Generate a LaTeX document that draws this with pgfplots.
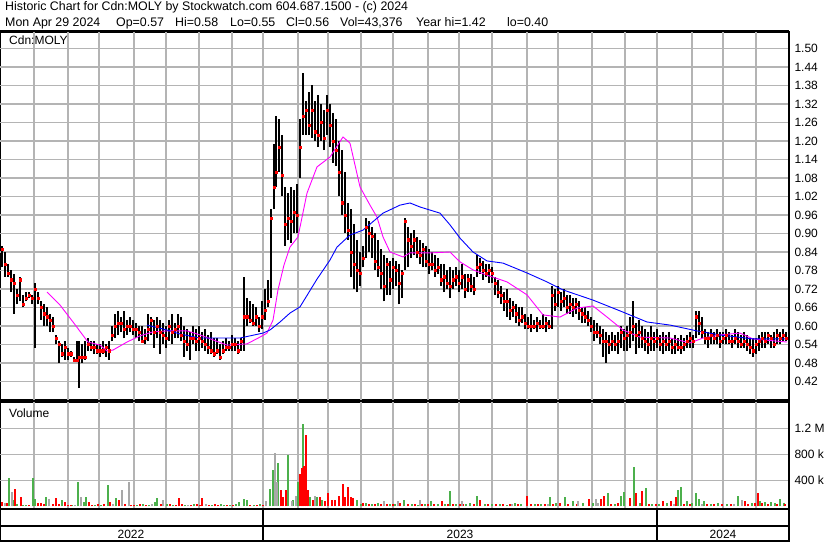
\documentclass[border=0pt]{standalone}
\usepackage{pgfplots}
\pgfplotsset{compat=1.18}
\usepackage{pgfplotstable}
\usepackage{fontspec}
\setmainfont{Liberation Sans}

\definecolor{gridc}{RGB}{180,180,180}
\definecolor{volg}{RGB}{76,176,76}
\definecolor{volr}{RGB}{255,0,0}
\definecolor{volgr}{RGB}{168,168,168}
\definecolor{maf}{RGB}{255,0,255}
\definecolor{mas}{RGB}{0,0,255}

% daily bars: x position, high, low, close
\pgfplotstableread{
x h l c
2 0.86 0.79 0.85
5 0.84 0.76 0.80
8 0.80 0.76 0.77
11 0.78 0.71 0.75
14 0.77 0.64 0.74
17 0.72 0.67 0.70
20 0.76 0.68 0.75
23 0.70 0.66 0.67
26 0.71 0.68 0.69
29 0.71 0.69 0.70
32 0.70 0.67 0.69
35 0.74 0.53 0.72
38 0.71 0.67 0.69
41 0.68 0.62 0.66
44 0.67 0.60 0.64
47 0.66 0.60 0.63
50 0.64 0.58 0.62
53 0.63 0.58 0.60
56 0.57 0.54 0.56
59 0.55 0.48 0.54
62 0.54 0.50 0.51
65 0.55 0.49 0.53
68 0.53 0.49 0.51
71 0.52 0.50 0.51
74 0.50 0.49 0.49
77 0.55 0.49 0.49
79 0.55 0.40 0.50
82 0.54 0.48 0.50
85 0.55 0.49 0.50
88 0.56 0.52 0.54
91 0.55 0.52 0.53
94 0.55 0.51 0.53
97 0.54 0.51 0.52
100 0.54 0.50 0.52
103 0.55 0.51 0.52
106 0.54 0.50 0.53
109 0.55 0.49 0.52
112 0.60 0.55 0.57
115 0.64 0.56 0.60
118 0.65 0.57 0.61
121 0.63 0.58 0.61
124 0.65 0.56 0.59
127 0.62 0.57 0.60
130 0.63 0.58 0.60
133 0.62 0.57 0.59
136 0.61 0.56 0.59
139 0.60 0.55 0.58
142 0.60 0.55 0.55
145 0.59 0.54 0.56
148 0.64 0.55 0.59
151 0.63 0.57 0.62
154 0.62 0.53 0.58
157 0.63 0.56 0.60
160 0.62 0.51 0.58
163 0.61 0.54 0.57
166 0.60 0.53 0.56
169 0.62 0.55 0.60
172 0.64 0.54 0.58
175 0.61 0.56 0.59
178 0.64 0.56 0.60
181 0.63 0.55 0.57
184 0.60 0.50 0.55
187 0.59 0.52 0.54
190 0.58 0.49 0.56
193 0.60 0.54 0.56
196 0.59 0.52 0.55
199 0.60 0.52 0.56
202 0.58 0.53 0.55
205 0.59 0.52 0.54
208 0.57 0.51 0.53
211 0.58 0.51 0.52
214 0.56 0.50 0.51
217 0.56 0.51 0.52
220 0.54 0.49 0.50
223 0.55 0.51 0.52
226 0.56 0.52 0.53
229 0.55 0.52 0.53
232 0.57 0.52 0.54
235 0.56 0.52 0.54
238 0.55 0.51 0.52
241 0.56 0.52 0.55
244 0.76 0.52 0.63
247 0.69 0.60 0.63
250 0.68 0.61 0.62
253 0.67 0.60 0.61
256 0.66 0.60 0.63
259 0.63 0.58 0.60
262 0.68 0.59 0.63
265 0.72 0.62 0.65
268 0.75 0.66 0.68
271 0.98 0.69 0.95
274 1.19 0.98 1.05
276 1.28 1.05 1.10
279 1.27 1.10 1.18
282 1.22 1.02 1.09
285 1.05 0.86 0.93
288 1.03 0.88 0.95
291 1.05 0.87 0.94
294 1.04 0.90 0.97
297 1.06 0.90 0.96
300 1.27 1.08 1.18
303 1.42 1.22 1.28
306 1.33 1.22 1.30
309 1.36 1.22 1.25
312 1.38 1.21 1.30
315 1.33 1.20 1.23
318 1.35 1.18 1.22
321 1.32 1.20 1.26
324 1.30 1.17 1.21
327 1.35 1.22 1.30
330 1.32 1.18 1.25
333 1.29 1.13 1.20
336 1.27 1.12 1.17
339 1.20 1.02 1.10
342 1.17 0.96 1.00
345 1.10 0.90 0.96
348 1.00 0.88 0.91
351 0.98 0.76 0.84
354 0.93 0.72 0.80
357 0.88 0.71 0.78
360 0.84 0.73 0.77
363 0.86 0.79 0.82
366 0.95 0.82 0.92
369 0.94 0.84 0.90
372 0.92 0.82 0.89
375 0.90 0.78 0.81
378 0.88 0.76 0.79
381 0.85 0.72 0.77
384 0.83 0.68 0.73
387 0.82 0.70 0.80
390 0.81 0.70 0.75
393 0.82 0.72 0.79
396 0.81 0.73 0.78
399 0.80 0.67 0.74
402 0.78 0.69 0.77
405 0.95 0.78 0.94
408 0.92 0.79 0.88
411 0.90 0.82 0.86
414 0.91 0.83 0.88
417 0.89 0.82 0.84
420 0.88 0.80 0.83
423 0.87 0.79 0.85
426 0.86 0.79 0.81
429 0.85 0.77 0.80
432 0.84 0.78 0.80
435 0.83 0.76 0.78
438 0.82 0.77 0.79
441 0.80 0.73 0.75
444 0.80 0.71 0.76
447 0.78 0.72 0.74
450 0.79 0.69 0.73
453 0.78 0.72 0.75
456 0.79 0.73 0.76
459 0.78 0.71 0.74
462 0.80 0.72 0.76
465 0.77 0.69 0.72
468 0.77 0.71 0.75
471 0.77 0.71 0.73
474 0.76 0.70 0.72
477 0.83 0.76 0.79
480 0.82 0.77 0.80
483 0.81 0.75 0.78
486 0.80 0.76 0.77
489 0.80 0.74 0.78
492 0.79 0.74 0.77
495 0.76 0.70 0.74
498 0.75 0.69 0.71
501 0.73 0.67 0.70
504 0.71 0.65 0.68
507 0.72 0.63 0.68
510 0.69 0.62 0.65
513 0.68 0.63 0.66
516 0.67 0.61 0.64
519 0.66 0.60 0.62
522 0.66 0.61 0.63
525 0.64 0.59 0.61
528 0.63 0.59 0.60
531 0.64 0.58 0.60
534 0.62 0.59 0.60
537 0.63 0.58 0.61
540 0.62 0.59 0.60
543 0.64 0.59 0.60
546 0.63 0.58 0.61
549 0.62 0.59 0.60
552 0.73 0.59 0.70
555 0.72 0.65 0.67
558 0.73 0.66 0.71
561 0.71 0.65 0.68
564 0.72 0.66 0.69
567 0.70 0.64 0.66
570 0.70 0.64 0.67
573 0.69 0.63 0.66
576 0.69 0.64 0.67
579 0.68 0.62 0.65
582 0.66 0.61 0.64
585 0.66 0.61 0.63
588 0.65 0.60 0.62
591 0.63 0.58 0.60
594 0.62 0.55 0.58
597 0.61 0.56 0.58
600 0.60 0.54 0.57
603 0.59 0.50 0.55
606 0.58 0.48 0.55
609 0.57 0.51 0.54
612 0.58 0.52 0.55
615 0.57 0.52 0.54
618 0.58 0.51 0.55
621 0.60 0.53 0.58
624 0.59 0.52 0.56
627 0.60 0.52 0.57
630 0.63 0.53 0.58
633 0.68 0.55 0.60
636 0.61 0.51 0.57
639 0.62 0.53 0.58
642 0.60 0.53 0.56
645 0.59 0.52 0.55
648 0.58 0.51 0.54
651 0.60 0.52 0.56
654 0.58 0.52 0.55
657 0.59 0.53 0.56
660 0.57 0.52 0.54
663 0.58 0.51 0.55
666 0.57 0.52 0.54
669 0.58 0.52 0.55
672 0.56 0.51 0.53
675 0.57 0.51 0.54
678 0.56 0.52 0.53
681 0.57 0.51 0.53
684 0.56 0.52 0.54
687 0.57 0.53 0.55
690 0.58 0.53 0.56
693 0.57 0.53 0.55
696 0.65 0.56 0.63
699 0.65 0.57 0.61
702 0.63 0.56 0.58
705 0.59 0.54 0.56
708 0.58 0.53 0.56
711 0.59 0.54 0.57
714 0.58 0.54 0.56
717 0.59 0.54 0.57
720 0.58 0.53 0.55
723 0.58 0.54 0.56
726 0.59 0.54 0.57
729 0.58 0.54 0.55
732 0.57 0.53 0.55
735 0.59 0.54 0.56
738 0.58 0.53 0.55
741 0.57 0.53 0.54
744 0.58 0.53 0.55
747 0.57 0.52 0.54
750 0.56 0.51 0.53
753 0.56 0.50 0.52
756 0.56 0.51 0.54
759 0.57 0.52 0.55
762 0.58 0.53 0.56
765 0.58 0.53 0.55
768 0.58 0.54 0.57
771 0.57 0.53 0.56
774 0.58 0.53 0.54
777 0.59 0.54 0.57
780 0.58 0.54 0.56
783 0.59 0.55 0.57
786 0.58 0.55 0.56
}\pricedata

\pgfplotsset{
  panel/.style={
    scale only axis, anchor=south west,
    xmin=0, xmax=789,
    axis line style={black, line width=1.6pt},
    xtick=\empty,
    major tick length=0pt,
    yticklabel pos=right,
    yticklabel style={font=\fontsize{12}{14}\selectfont, anchor=west, xshift=2pt},
  },
}
\tikzset{gridline/.style={draw=gridc, line width=1.1pt}}

\begin{document}
\begin{tikzpicture}
\path[use as bounding box] (0pt,0pt) rectangle (830pt,543pt);

% header
\begin{scope}[every node/.style={font=\fontsize{12.4}{14}\selectfont, anchor=base west, inner sep=0pt}]
\node at (5pt,532pt) {Historic Chart for Cdn:MOLY by Stockwatch.com 604.687.1500 - (c) 2024};
\node at (5pt,516pt) {Mon Apr 29 2024};
\node at (116pt,516pt) {Op=0.57};
\node at (175pt,516pt) {Hi=0.58};
\node at (230pt,516pt) {Lo=0.55};
\node at (286pt,516pt) {Cl=0.56};
\node at (340pt,516pt) {Vol=43,376};
\node at (416pt,516pt) {Year hi=1.42};
\node at (507pt,516pt) {lo=0.40};
\end{scope}

% price panel
\begin{axis}[panel, at={(0pt,143pt)}, width=789pt, height=368pt,
  ymin=0.36, ymax=1.5535,
  ytick={0.42,0.48,0.54,0.60,0.66,0.72,0.78,0.84,0.90,0.96,1.02,1.08,1.14,1.20,1.26,1.32,1.38,1.44,1.50},
  yticklabels={0.42,0.48,0.54,0.60,0.66,0.72,0.78,0.84,0.90,0.96,1.02,1.08,1.14,1.20,1.26,1.32,1.38,1.44,1.50},
]
\pgfplotsinvokeforeach{34,68,99,134,166,199,232,263,298,328,361,393,428,459,492,527,558,592,625,657,692,723,756}{
  \draw[gridline] (axis cs:#1,0.36) -- (axis cs:#1,1.5535);
}
\pgfplotsinvokeforeach{0.42,0.48,0.54,0.60,0.66,0.72,0.78,0.84,0.90,0.96,1.02,1.08,1.14,1.20,1.26,1.32,1.38,1.44,1.50}{
  \draw[gridline] (axis cs:0,#1) -- (axis cs:789,#1);
}
\addplot[draw=none, mark=none, forget plot,
  error bars/.cd, y dir=plus, y explicit, error mark=none,
  error bar style={draw=black, line width=2pt}]
  table[x=x, y=l, y error plus expr=\thisrow{h}-\thisrow{l}] {\pricedata};
\addplot[only marks, mark=square*, mark size=1.1pt, red] table[x=x, y=c] {\pricedata};
% short moving average
\addplot[maf, line width=0.9pt, mark=none] coordinates {
(47,0.710) (60,0.668) (73,0.613) (88,0.548) (100,0.538) (107,0.519) (113,0.522)
(127,0.548) (140,0.568) (153,0.581) (167,0.584) (187,0.584) (200,0.571) (213,0.555)
(227,0.538) (247,0.542) (260,0.564) (267,0.577) (273,0.619) (278,0.717) (284,0.798)
(290,0.856) (298,0.889) (307,1.031) (317,1.116) (330,1.148) (343,1.213) (350,1.193)
(360,1.051) (370,0.992) (377,0.953) (383,0.889) (390,0.840) (403,0.824) (410,0.837)
(430,0.837) (450,0.840) (460,0.808) (473,0.782) (487,0.765) (507,0.743) (527,0.701)
(543,0.636) (560,0.629) (577,0.658) (593,0.665) (607,0.629) (623,0.587) (640,0.564)
(670,0.561) (690,0.545) (703,0.561) (720,0.571) (740,0.577) (753,0.558) (787,0.548)
};
% long moving average
\addplot[mas, line width=0.9pt, mark=none] coordinates {
(147,0.603) (167,0.587) (180,0.574) (200,0.561) (213,0.561) (240,0.561) (263,0.577)
(270,0.587) (280,0.613) (290,0.642) (300,0.662) (317,0.752) (330,0.814) (337,0.856)
(350,0.895) (363,0.911) (383,0.966) (400,0.992) (410,0.999) (420,0.986) (430,0.976)
(440,0.966) (450,0.928) (460,0.885) (473,0.840) (487,0.811) (503,0.804) (527,0.772)
(547,0.743) (563,0.717) (593,0.684) (620,0.649) (647,0.613) (670,0.603) (697,0.584)
(720,0.571) (753,0.558) (787,0.558)
};
\end{axis}
\node[anchor=base west, inner sep=0pt, font=\fontsize{12}{14}\selectfont] at (9pt,498pt) {Cdn:MOLY};

% volume panel (thousands)
\begin{axis}[panel, at={(0pt,34pt)}, width=789pt, height=107pt,
  ymin=-41.5, ymax=1604.6,
  ytick={400,800,1200},
  yticklabels={400 k,800 k,1.2 M},
]
\pgfplotsinvokeforeach{34,68,99,134,166,199,232,263,298,328,361,393,428,459,492,527,558,592,625,657,692,723,756}{
  \draw[gridline] (axis cs:#1,-41.5) -- (axis cs:#1,1604.6);
}
\pgfplotsinvokeforeach{400,800,1200}{
  \draw[gridline] (axis cs:0,#1) -- (axis cs:789,#1);
}
\addplot[ycomb, volg, line width=1.8pt, mark=none] coordinates {
(9,440) (13,90) (17,40) (23,20) (26,15) (33,440) (35,110) (46,145) (62,100) (72,25)
(78,375) (84,60) (86,150) (95,25) (101,20) (108,330) (116,135) (137,20) (143,35) (149,25)
(155,60) (157,130) (167,30) (173,20) (185,20) (194,30) (212,15) (221,35) (224,25) (230,20)
(236,40) (239,60) (244,110) (247,90) (254,15) (260,30) (270,260) (273,560) (278,670) (288,790)
(293,100) (298,380) (303,1265) (310,150) (317,150) (322,100) (357,95) (361,40) (366,50) (372,35)
(378,45) (390,30) (395,40) (404,90) (412,30) (418,25) (425,40) (431,75) (438,30) (445,35)
(450,235) (456,30) (466,35) (470,55) (477,160) (485,30) (492,40) (500,35) (507,25) (515,50)
(521,30) (535,35) (541,40) (550,150) (556,45) (565,140) (573,85) (583,50) (593,45) (608,210)
(615,40) (621,165) (624,215) (634,600) (640,50) (646,280) (652,40) (659,35) (667,45) (678,250)
(681,290) (687,80) (692,45) (696,200) (699,115) (704,80) (711,35) (718,45) (727,40) (738,165)
(752,50) (760,80) (765,60) (771,70) (775,55) (780,110) (784,45)
};
\addplot[ycomb, volr, line width=1.8pt, mark=none] coordinates {
(2,60) (7,50) (15,260) (21,145) (29,25) (38,50) (41,50) (44,30) (53,30) (56,135)
(59,40) (65,70) (68,20) (71,15) (89,60) (92,20) (98,30) (104,35) (110,60) (119,100)
(125,40) (131,20) (134,25) (140,30) (146,15) (161,35) (170,40) (176,25) (179,130) (182,30)
(191,20) (197,35) (200,20) (202,130) (209,20) (215,30) (218,25) (227,20) (233,15) (250,20)
(257,20) (263,20) (281,250) (283,145) (286,255) (300,490) (302,590) (304,620) (306,1100) (308,255)
(313,100) (320,140) (325,85) (328,200) (332,95) (335,95) (339,165) (343,340) (345,145) (348,295)
(351,140) (353,125) (363,45) (369,40) (375,35) (381,30) (387,40) (393,35) (400,45) (408,30)
(415,40) (422,35) (428,30) (434,40) (442,85) (448,35) (453,30) (460,40) (463,30) (474,35)
(480,100) (488,40) (496,35) (503,30) (510,40) (518,35) (527,165) (531,40) (538,30) (545,35)
(553,40) (560,45) (568,35) (577,40) (589,110) (601,110) (604,165) (611,40) (618,50) (630,135)
(636,200) (642,230) (649,40) (656,35) (663,80) (671,80) (676,140) (684,40) (690,35) (707,40)
(714,35) (722,40) (731,35) (745,85) (748,40) (755,50) (758,210) (762,45) (768,40) (777,35)
(785,30)
};
\addplot[ycomb, volgr, line width=1.8pt, mark=none] coordinates {
(5,50) (12,220) (49,110) (75,15) (81,145) (113,40) (122,250) (129,375) (152,40) (163,100)
(188,25) (206,40) (266,75) (275,825) (277,380) (292,80) (296,165) (315,165) (384,80) (398,75)
(420,90) (462,85) (512,35) (548,40) (578,85) (596,110) (598,50) (674,30) (702,30) (734,30)
(742,100)
};
\end{axis}
\node[anchor=base west, inner sep=0pt, font=\fontsize{12}{14}\selectfont] at (9pt,125pt) {Volume};

% frame and date strip
\draw[black, line width=1.6pt] (0pt,512pt) -- (789pt,512pt);
\draw[black, line width=1.6pt] (0pt,2pt) rectangle (789pt,34pt);
\draw[black, line width=1.2pt] (0pt,17pt) -- (789pt,17pt);
\draw[black, line width=1.2pt] (263pt,2pt) -- (263pt,34pt);
\draw[black, line width=1.2pt] (657pt,2pt) -- (657pt,34pt);
\draw[black, line width=2pt] (789pt,1pt) -- (789pt,512pt);
\begin{scope}[every node/.style={font=\fontsize{12}{14}\selectfont, inner sep=0pt}]
\node at (131pt,9pt) {2022};
\node at (460pt,9pt) {2023};
\node at (723pt,9pt) {2024};
\end{scope}
\end{tikzpicture}
\end{document}
